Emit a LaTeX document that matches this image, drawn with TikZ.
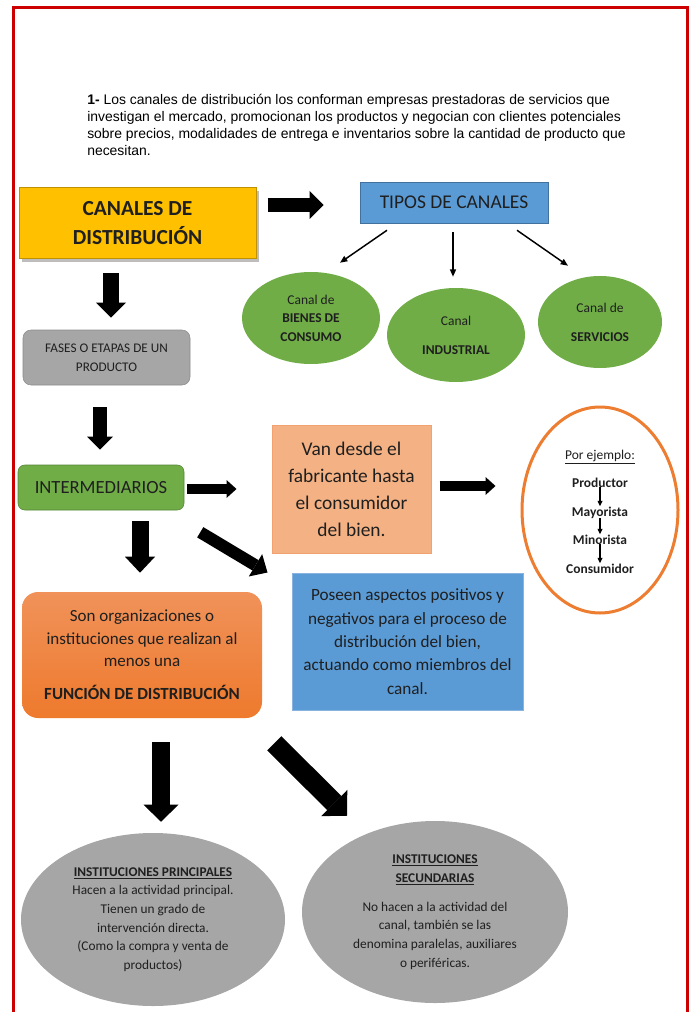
\documentclass[tikz,border=0pt]{standalone}
\usepackage{fontspec}
\setmainfont{Carlito}
\newfontfamily\arialfont{Liberation Sans}
\usetikzlibrary{shapes.geometric,arrows.meta,calc}

\definecolor{frameRed}{HTML}{CC0000}
\definecolor{yellowFill}{HTML}{FFC000}
\definecolor{yellowLine}{HTML}{BF9000}
\definecolor{shadowGray}{HTML}{BDBDBD}
\definecolor{blueFill}{HTML}{5B9BD5}
\definecolor{blueLine}{HTML}{41719C}
\definecolor{blueLight}{HTML}{8AB4DF}
\definecolor{greenFill}{HTML}{70AD47}
\definecolor{greenLine}{HTML}{548235}
\definecolor{grayFill}{HTML}{A6A6A6}
\definecolor{grayLine}{HTML}{8C8C8C}
\definecolor{salmonFill}{HTML}{F4B183}
\definecolor{salmonLine}{HTML}{F2A271}
\definecolor{sonTop}{HTML}{F0925A}
\definecolor{sonBottom}{HTML}{EE7A2D}
\definecolor{orangeLine}{HTML}{ED7D31}

\begin{document}
\begin{tikzpicture}[x=0.75pt,y=0.75pt,yscale=-1,xscale=1,
  wh/.style 2 args={minimum width=#1*0.75pt,minimum height=#2*0.75pt},
  txt/.style={inner sep=0pt,align=center,text=black!88},
  bigarrow/.style n args={3}{line width=#1,-{Triangle[length=#2,width=#3,line width=0pt]}},
  thinarrow/.style={line width=1.1pt,-{Triangle[length=5.5pt,width=4.5pt]}},
  smallarrow/.style={line width=0.9pt,-{Triangle[length=4pt,width=3.5pt]}}]
\useasboundingbox (0,0) rectangle (689,1012);

%Shape: Frame
\draw [color=frameRed, line width=2.25pt] (13,1012) -- (13,8) -- (687,8) -- (687,1012) ;

% Text Node
\draw (87,94) node (intro) [anchor=north west][inner sep=0pt] [align=left] [font=\arialfont\fontsize{10.45}{12.7}\selectfont] {\textbf{1-} Los canales de distribución los conforman empresas prestadoras de servicios que\\investigan el mercado, promocionan los productos y negocian con clientes potenciales\\sobre precios, modalidades de entrega e inventarios sobre la cantidad de producto que\\necesitan.};

%Shape: Rectangle
\fill [shadowGray] (22,191) rectangle (259,262) ;
\draw (137.5,223.5) node (canales) [txt, wh={237}{71}, draw=yellowLine, fill=yellowFill, line width=0.75pt, font=\fontsize{16.1}{21.75}\selectfont\bfseries] {CANALES DE\\DISTRIBUCIÓN};
%Shape: Rectangle
\draw (454,202.5) node (tipos) [txt, wh={188}{41}, draw=blueLine, fill=blueFill, font=\fontsize{14.6}{17}\selectfont] {TIPOS DE CANALES};

%Shape: Ellipse
\draw (311,318) node (bienes) [txt, ellipse, wh={138}{92}, fill=greenFill, font=\fontsize{10.1}{13.9}\selectfont] {Canal de\\\textbf{BIENES DE}\\\textbf{CONSUMO}};
%Shape: Ellipse
\draw (456,335) node (industrial) [txt, ellipse, wh={138}{94}, fill=greenFill, font=\fontsize{10.1}{13.9}\selectfont] {Canal\\[7.8pt]\textbf{INDUSTRIAL}};
%Shape: Ellipse
\draw (600,322) node (servicios) [txt, ellipse, wh={124}{92}, fill=greenFill, font=\fontsize{10.1}{13.9}\selectfont] {Canal de\\[7.8pt]\textbf{SERVICIOS}};

%Shape: Rounded Rect
\draw (106.5,357.5) node (fases) [txt, wh={167}{55}, rounded corners=6pt, draw=grayLine, fill=grayFill, font=\fontsize{9.9}{14.25}\selectfont] {FASES O ETAPAS DE UN\\PRODUCTO};
%Shape: Rounded Rect
\draw (101,487.5) node (interm) [txt, wh={166}{45}, rounded corners=5pt, draw=greenLine, fill=greenFill, font=\fontsize{13.95}{16}\selectfont] {INTERMEDIARIOS};
%Shape: Rounded Rect
\draw (142,655) node (son) [txt, wh={240}{126}, rounded corners=12pt, top color=sonTop, bottom color=sonBottom, font=\fontsize{12.75}{16.9}\selectfont] {Son organizaciones o\\instituciones que realizan al\\menos una\\[7.9pt]\textbf{FUNCIÓN DE DISTRIBUCIÓN}};

%Shape: Rectangle
\draw (351.5,489) node (van) [txt, wh={159}{128}, draw=salmonLine, fill=salmonFill, line width=0.75pt, font=\fontsize{14.55}{20.25}\selectfont] {Van desde el\\fabricante hasta\\el consumidor\\del bien.};
%Shape: Rectangle
\draw (407.5,641.5) node (poseen) [txt, wh={231}{137}, draw=blueLight, fill=blueFill, line width=0.75pt, font=\fontsize{12.9}{17.5}\selectfont] {Poseen aspectos positivos y\\negativos para el proceso de\\distribución del bien,\\actuando como miembros del\\canal.};

%Shape: Ellipse
\draw (600,510) node (ejemplo) [ellipse, wh={156}{206}, draw=orangeLine, line width=2.25pt] {};
% Text Node
\draw (600,459) node (porej) [txt, anchor=base, font=\fontsize{10.1}{12}\selectfont] {\underline{Por ejemplo:}};
\draw (600,487) node (productor) [txt, anchor=base, font=\fontsize{10.1}{12}\selectfont\bfseries] {Productor};
\draw (600,516) node (mayorista) [txt, anchor=base, font=\fontsize{10.1}{12}\selectfont\bfseries] {Mayorista};
\draw (600,544) node (minorista) [txt, anchor=base, font=\fontsize{10.1}{12}\selectfont\bfseries] {Minorista};
\draw (600,573) node (consumidor) [txt, anchor=base, font=\fontsize{10.1}{12}\selectfont\bfseries] {Consumidor};

%Shape: Ellipse
\draw (153,919.5) node (principales) [txt, ellipse, wh={264}{173}, fill=grayFill, font=\fontsize{10}{14}\selectfont] {\textbf{\underline{INSTITUCIONES PRINCIPALES}}\\Hacen a la actividad principal.\\Tienen un grado de\\intervención directa.\\(Como la compra y venta de\\productos)};
%Shape: Ellipse
\draw (435,912) node (secundarias) [txt, ellipse, wh={266}{182}, fill=grayFill, font=\fontsize{10}{14}\selectfont] {\textbf{\underline{INSTITUCIONES}}\\\textbf{\underline{SECUNDARIAS}}\\[7.8pt]No hacen a la actividad del\\canal, también se las\\denomina paralelas, auxiliares\\o periféricas.};

%Block Arrows
\draw [bigarrow={10.5pt}{10.5pt}{21pt}] ($(canales.east)+(11,-18.5)$) -- ($(tipos.west)+(-36,2.5)$) ;
\draw [bigarrow={12pt}{11.25pt}{22.5pt}] ($(canales.south)+(-26.5,14)$) -- ($(fases.north)+(4.5,-12)$) ;
\draw [bigarrow={10.5pt}{9.75pt}{19.5pt}] ($(fases.south)+(-6.5,22)$) -- ($(interm.north)+(-1,-15)$) ;
\draw [bigarrow={7.5pt}{7.5pt}{13.5pt}] ($(interm.east)+(3,1.5)$) -- ($(van.west)+(-35,0)$) ;
\draw [bigarrow={12.75pt}{12pt}{22.5pt}] ($(interm.south)+(39,11)$) -- ($(son.north)+(-2,-19)$) ;
\draw [bigarrow={9pt}{10.5pt}{19.5pt}] ($(interm.south east)+(16,22)$) -- ($(poseen.north west)+(-24,0)$) ;
\draw [bigarrow={7.5pt}{7.5pt}{13.5pt}] ($(van.east)+(8,-3)$) -- ($(ejemplo.west)+(-25,-24)$) ;
\draw [bigarrow={13.5pt}{12.75pt}{26.25pt}] ($(son.south)+(19,24)$) -- ($(principales.north)+(8,-11)$) ;
\draw [bigarrow={15pt}{13.5pt}{27.75pt}] ($(son.south east)+(12,25)$) -- ($(secundarias.north)+(-88,-5)$) ;

%Straight Lines
\draw [thinarrow] ($(tipos.south)+(-67,7)$) -- ($(bienes.north)+(29,-9)$) ;
\draw [thinarrow] ($(tipos.south)+(-1,9)$) -- ($(industrial.north)+(-3,-11)$) ;
\draw [thinarrow] ($(tipos.south)+(63,7)$) -- ($(servicios.north)+(-32,-10)$) ;

%Straight Lines
\draw [smallarrow] (productor.south) -- (mayorista.north) ;
\draw [smallarrow] (mayorista.south) -- (minorista.north) ;
\draw [smallarrow] (minorista.south) -- (consumidor.north) ;

\end{tikzpicture}
\end{document}
